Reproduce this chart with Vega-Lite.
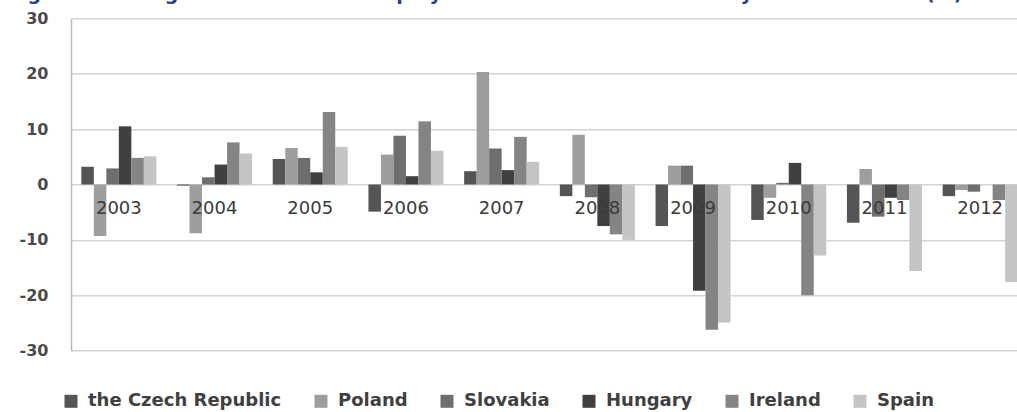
{
  "$schema": "https://vega.github.io/schema/vega-lite/v6.json",
  "autosize": {"type": "none"},
  "width": 946,
  "height": 332.4,
  "padding": {"left": 71, "top": 18.3, "right": 0, "bottom": 61.3},
  "background": "white",
  "title": {
    "text": "Figure 3: Changes in the level of employment in construction in the years 2003-2012 (%)",
    "anchor": "start",
    "frame": "group",
    "font": "DejaVu Sans",
    "fontSize": 19,
    "fontWeight": "bold",
    "color": "#24408e",
    "baseline": "alphabetic",
    "offset": -9,
    "dx": -63
  },
  "data": {
    "values": [
      {"year": "2003", "country": "the Czech Republic", "value": 3.2},
      {"year": "2003", "country": "Poland", "value": -9.3},
      {"year": "2003", "country": "Slovakia", "value": 2.9},
      {"year": "2003", "country": "Hungary", "value": 10.5},
      {"year": "2003", "country": "Ireland", "value": 4.8},
      {"year": "2003", "country": "Spain", "value": 5.1},
      {"year": "2004", "country": "the Czech Republic", "value": -0.2},
      {"year": "2004", "country": "Poland", "value": -8.8},
      {"year": "2004", "country": "Slovakia", "value": 1.3},
      {"year": "2004", "country": "Hungary", "value": 3.6},
      {"year": "2004", "country": "Ireland", "value": 7.6},
      {"year": "2004", "country": "Spain", "value": 5.6},
      {"year": "2005", "country": "the Czech Republic", "value": 4.6},
      {"year": "2005", "country": "Poland", "value": 6.6},
      {"year": "2005", "country": "Slovakia", "value": 4.8},
      {"year": "2005", "country": "Hungary", "value": 2.2},
      {"year": "2005", "country": "Ireland", "value": 13.1},
      {"year": "2005", "country": "Spain", "value": 6.8},
      {"year": "2006", "country": "the Czech Republic", "value": -4.9},
      {"year": "2006", "country": "Poland", "value": 5.4},
      {"year": "2006", "country": "Slovakia", "value": 8.8},
      {"year": "2006", "country": "Hungary", "value": 1.5},
      {"year": "2006", "country": "Ireland", "value": 11.4},
      {"year": "2006", "country": "Spain", "value": 6.1},
      {"year": "2007", "country": "the Czech Republic", "value": 2.4},
      {"year": "2007", "country": "Poland", "value": 20.3},
      {"year": "2007", "country": "Slovakia", "value": 6.5},
      {"year": "2007", "country": "Hungary", "value": 2.6},
      {"year": "2007", "country": "Ireland", "value": 8.6},
      {"year": "2007", "country": "Spain", "value": 4.1},
      {"year": "2008", "country": "the Czech Republic", "value": -2.1},
      {"year": "2008", "country": "Poland", "value": 9.0},
      {"year": "2008", "country": "Slovakia", "value": -2.3},
      {"year": "2008", "country": "Hungary", "value": -7.5},
      {"year": "2008", "country": "Ireland", "value": -9.0},
      {"year": "2008", "country": "Spain", "value": -10.0},
      {"year": "2009", "country": "the Czech Republic", "value": -7.5},
      {"year": "2009", "country": "Poland", "value": 3.4},
      {"year": "2009", "country": "Slovakia", "value": 3.4},
      {"year": "2009", "country": "Hungary", "value": -19.2},
      {"year": "2009", "country": "Ireland", "value": -26.2},
      {"year": "2009", "country": "Spain", "value": -24.9},
      {"year": "2010", "country": "the Czech Republic", "value": -6.4},
      {"year": "2010", "country": "Poland", "value": -2.4},
      {"year": "2010", "country": "Slovakia", "value": 0.3},
      {"year": "2010", "country": "Hungary", "value": 3.9},
      {"year": "2010", "country": "Ireland", "value": -20.0},
      {"year": "2010", "country": "Spain", "value": -12.8},
      {"year": "2011", "country": "the Czech Republic", "value": -6.9},
      {"year": "2011", "country": "Poland", "value": 2.8},
      {"year": "2011", "country": "Slovakia", "value": -5.8},
      {"year": "2011", "country": "Hungary", "value": -2.4},
      {"year": "2011", "country": "Ireland", "value": -2.8},
      {"year": "2011", "country": "Spain", "value": -15.6},
      {"year": "2012", "country": "the Czech Republic", "value": -2.1},
      {"year": "2012", "country": "Poland", "value": -1.0},
      {"year": "2012", "country": "Slovakia", "value": -1.3},
      {"year": "2012", "country": "Hungary", "value": 0},
      {"year": "2012", "country": "Ireland", "value": -2.8},
      {"year": "2012", "country": "Spain", "value": -17.6}
    ]
  },
  "mark": {"type": "bar", "cornerRadius": 0},
  "encoding": {
    "x": {
      "field": "year",
      "type": "ordinal",
      "scale": {"range": [0, 957], "paddingInner": 0.216, "paddingOuter": 0.108},
      "axis": {
        "title": null,
        "orient": "bottom",
        "offset": -166.4,
        "domain": false,
        "ticks": false,
        "tickSize": 0,
        "labelPadding": 15,
        "labelAngle": 0,
        "labelFont": "DejaVu Sans",
        "labelFontSize": 18,
        "labelColor": "#3a3a3a",
        "zindex": 2,
        "grid": false
      }
    },
    "xOffset": {
      "field": "country",
      "type": "nominal",
      "sort": ["the Czech Republic", "Poland", "Slovakia", "Hungary", "Ireland", "Spain"],
      "scale": {"paddingInner": 0, "paddingOuter": 0}
    },
    "y": {
      "field": "value",
      "type": "quantitative",
      "scale": {"domain": [-30, 30], "nice": false, "zero": true},
      "axis": {
        "title": null,
        "values": [-30, -20, -10, 0, 10, 20, 30],
        "labelExpr": "datum.value < 0 ? '-' + abs(datum.value) : '' + datum.value",
        "ticks": false,
        "tickSize": 0,
        "labelPadding": 23,
        "labelFont": "DejaVu Sans",
        "labelFontSize": 16,
        "labelFontWeight": "bold",
        "labelColor": "#4a4a4a",
        "domainColor": "#bdbdbd",
        "domainWidth": 1.5,
        "gridColor": "#d4d4d4",
        "gridWidth": 1.5,
        "zindex": 0
      }
    },
    "color": {
      "field": "country",
      "type": "nominal",
      "sort": ["the Czech Republic", "Poland", "Slovakia", "Hungary", "Ireland", "Spain"],
      "scale": {
        "domain": ["the Czech Republic", "Poland", "Slovakia", "Hungary", "Ireland", "Spain"],
        "range": ["#555555", "#9e9e9e", "#6e6e6e", "#404040", "#848484", "#c4c4c4"]
      },
      "legend": {
        "title": null,
        "orient": "none",
        "direction": "horizontal",
        "legendX": -9,
        "legendY": 374,
        "padding": 0,
        "symbolType": "square",
        "symbolSize": 169,
        "symbolStrokeWidth": 0,
        "labelFont": "DejaVu Sans",
        "labelFontSize": 18,
        "labelFontWeight": "bold",
        "labelColor": "#404040",
        "labelOffset": 8,
        "columnPadding": 30,
        "labelLimit": 400
      }
    }
  },
  "config": {
    "view": {"stroke": null},
    "axis": {"labelFlush": false, "labelOverlap": false}
  }
}
